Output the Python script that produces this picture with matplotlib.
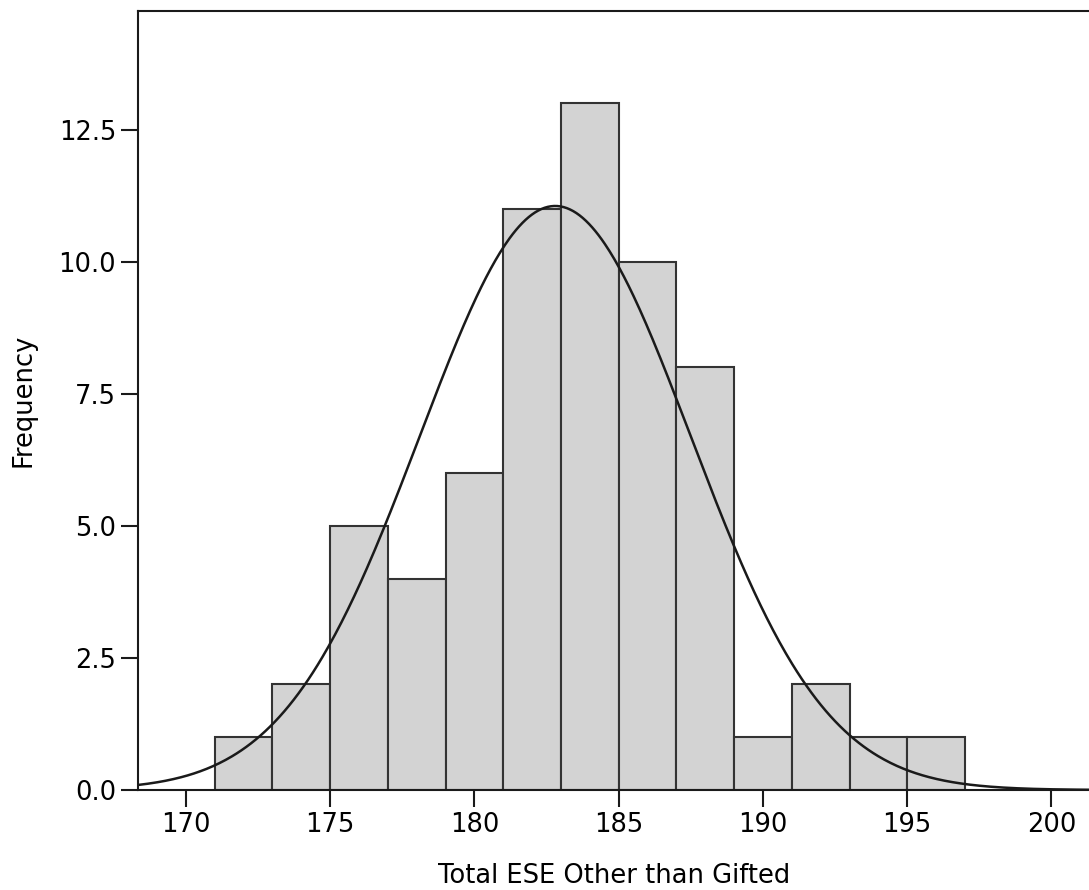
import numpy as np
import matplotlib
matplotlib.use("Agg")
import matplotlib.pyplot as plt

bin_edges = [171, 173, 175, 177, 179, 181, 183, 185, 187, 189, 191, 193, 195, 197]
counts = [1, 2, 5, 4, 6, 11, 13, 10, 8, 1, 2, 1, 1]
mean_val = 182.8
std_val = 4.69
x_ticks = [170, 175, 180, 185, 190, 195, 200]
y_ticks = [0.0, 2.5, 5.0, 7.5, 10.0, 12.5]

plt.rcParams['font.family'] = ['DejaVu Sans']
fig = plt.figure(figsize=(10.89, 8.9), dpi=100)
ax = fig.add_axes([138.3/1089, 100/890, 1 - 138.3/1089, (790-11)/890])

left = np.array(bin_edges[:-1])
widths = np.diff(bin_edges)
ax.bar(left, counts, width=widths, align='edge', color='#d3d3d3',
       edgecolor='#333333', linewidth=1.5, zorder=2)

n = sum(counts)
bw = widths[0]
xlo, xhi = 168.35, 201.3
xs = np.linspace(xlo, xhi, 600)
ys = n * bw / (std_val * np.sqrt(2 * np.pi)) * np.exp(-0.5 * ((xs - mean_val) / std_val) ** 2)
ax.plot(xs, ys, color='#1a1a1a', linewidth=1.8, zorder=3)

ax.set_xlim(xlo, xhi)
ax.set_ylim(0, 14.75)
ax.set_xticks(x_ticks)
ax.set_yticks(y_ticks)
ax.set_yticklabels([f"{v:.1f}" for v in y_ticks])
ax.spines['right'].set_visible(False)
for s in ['left', 'bottom', 'top']:
    ax.spines[s].set_linewidth(1.5)
    ax.spines[s].set_color('#1a1a1a')
ax.tick_params(axis='both', direction='out', length=12, width=1.5, color='#1a1a1a',
               labelsize=18.5, pad=4)
ax.set_xlabel("Total ESE Other than Gifted", fontsize=18.5, labelpad=17.5)
ax.set_ylabel("Frequency", fontsize=18.5, labelpad=16)

fig.savefig("out.png", dpi=100)
